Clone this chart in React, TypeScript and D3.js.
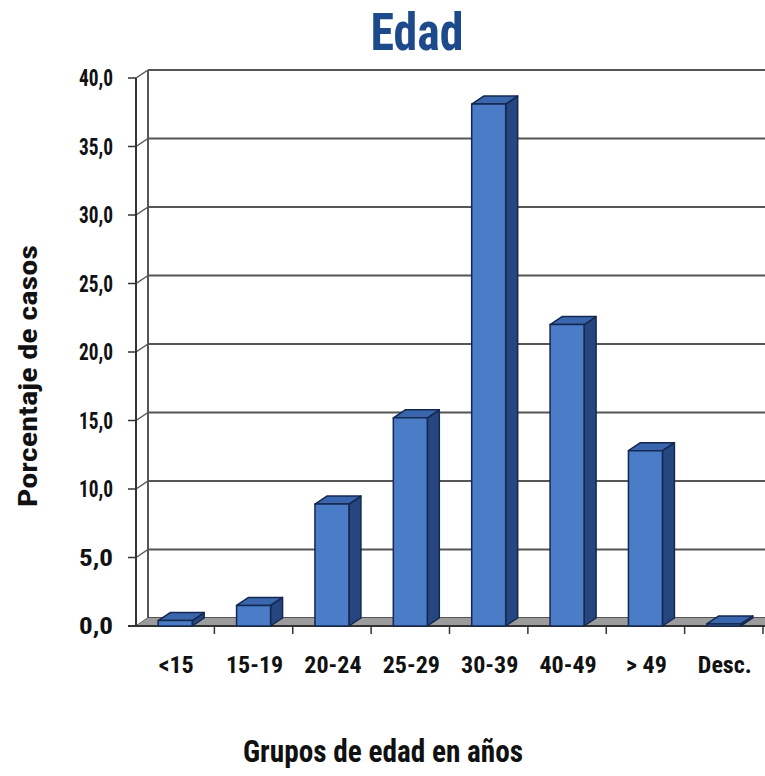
import * as d3 from "d3";

const categories = ["<15", "15-19", "20-24", "25-29", "30-39", "40-49", "> 49", "Desc."];
const values = [0.4, 1.5, 8.9, 15.2, 38.1, 22.0, 12.8, 0.15];
const yTicks = [0, 5, 10, 15, 20, 25, 30, 35, 40];

const FONT = "'Liberation Sans Narrow', 'Arial Narrow', 'Roboto Condensed', sans-serif";

export default function App() {
  const width = 765;
  const height = 776;
  const left = 136;
  const right = 763;
  const bottom = 626;
  const top = 78;
  const dx = 12; // depth offset
  const dy = 8;
  const barW = 34;

  const x = d3.scaleBand<string>().domain(categories).range([left, right]).padding(0);
  const y = d3.scaleLinear().domain([0, 40]).range([bottom, top]);
  const fmt = (v: number) => d3.format(".1f")(v).replace(".", ",");

  const boundaries = categories.map((c) => (x(c) as number) + x.bandwidth());

  return (
    <svg
      width={width}
      height={height}
      style={{ position: "absolute", left: 0, top: 0, background: "#fff" }}
      fontFamily={FONT}
    >
      <text
        x={417}
        y={50}
        textAnchor="middle"
        fontSize={51}
        fontWeight="bold"
        fill="#1d4a8a"
        textLength={93}
        lengthAdjust="spacingAndGlyphs"
      >
        Edad
      </text>

      {/* back wall gridlines */}
      {yTicks.map((t) => (
        <g key={t}>
          <line x1={left + dx} x2={width} y1={y(t) - dy} y2={y(t) - dy} stroke="#555" strokeWidth={2} />
          <line x1={left} x2={left + dx} y1={y(t)} y2={y(t) - dy} stroke="#555" strokeWidth={1.5} />
          <line x1={left - 8} x2={left} y1={y(t)} y2={y(t)} stroke="#333" strokeWidth={1.5} />
          <text
            x={113}
            y={y(t)}
            dy="0.35em"
            textAnchor="end"
            fontSize={23}
            fontWeight="bold"
            fill="#111"
            textLength={34}
            lengthAdjust="spacingAndGlyphs"
          >
            {fmt(t)}
          </text>
        </g>
      ))}

      {/* walls */}
      <line x1={left + dx} x2={left + dx} y1={y(40) - dy} y2={bottom - dy} stroke="#555" strokeWidth={2} />
      <line x1={left} x2={left} y1={y(40)} y2={bottom} stroke="#333" strokeWidth={2} />

      {/* floor */}
      <path
        d={`M${left},${bottom} L${left + dx},${bottom - dy} L${width},${bottom - dy} L${width},${bottom} Z`}
        fill="#9c9c9c"
      />
      <line x1={left - 8} x2={width} y1={bottom} y2={bottom} stroke="#333" strokeWidth={2} />
      {boundaries.map((b, i) => (
        <line key={i} x1={b} x2={b} y1={bottom} y2={bottom + 8} stroke="#333" strokeWidth={1.5} />
      ))}

      {/* bars */}
      {categories.map((c, i) => {
        const cx = (x(c) as number) + x.bandwidth() / 2;
        const x0 = cx - barW / 2;
        const x1 = cx + barW / 2;
        const yt = y(values[i]);
        return (
          <g key={c} stroke="#15284f" strokeWidth={1.5} strokeLinejoin="round">
            <path
              d={`M${x1},${bottom} L${x1 + dx},${bottom - dy} L${x1 + dx},${yt - dy} L${x1},${yt} Z`}
              fill="#25467f"
            />
            <path
              d={`M${x0},${yt} L${x0 + dx},${yt - dy} L${x1 + dx},${yt - dy} L${x1},${yt} Z`}
              fill="#3a66ad"
            />
            <rect x={x0} y={yt} width={barW} height={bottom - yt} fill="#4a7cc7" />
          </g>
        );
      })}

      {/* x tick labels */}
      {categories.map((c) => (
        <text
          key={c}
          x={(x(c) as number) + x.bandwidth() / 2 + 1}
          y={673}
          textAnchor="middle"
          fontSize={24}
          fontWeight="bold"
          fill="#111"
        >
          {c}
        </text>
      ))}

      <text
        transform={`translate(37,376) rotate(-90)`}
        textAnchor="middle"
        fontSize={26}
        fontWeight="bold"
        fill="#111"
        textLength={262}
        lengthAdjust="spacingAndGlyphs"
      >
        Porcentaje de casos
      </text>
      <text
        x={383}
        y={762}
        textAnchor="middle"
        fontSize={32}
        fontWeight="bold"
        fill="#111"
        textLength={280}
        lengthAdjust="spacingAndGlyphs"
      >
        Grupos de edad en años
      </text>
    </svg>
  );
}
